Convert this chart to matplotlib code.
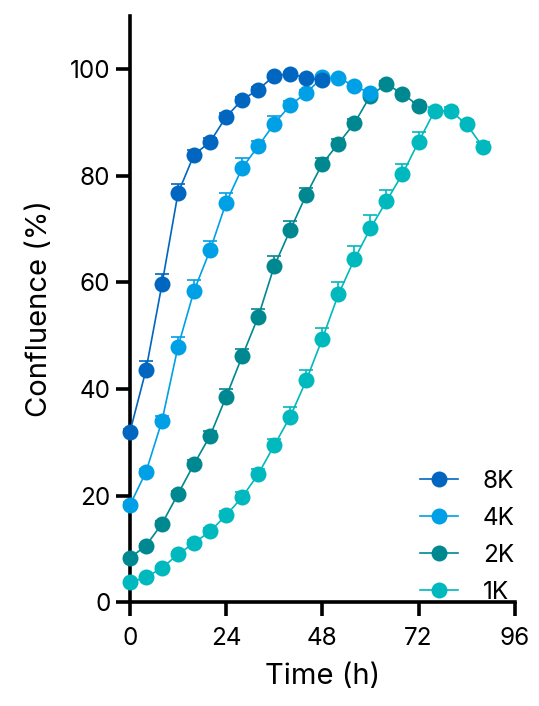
import numpy as np
import matplotlib
matplotlib.use("Agg")
import matplotlib.pyplot as plt

plt.rcParams["font.family"] = ["Inter", "DejaVu Sans"]

# ---- data (time in h, confluence in %) ----
labels = ["8K", "4K", "2K", "1K"]
colors = ["#0066c0", "#00a0e6", "#008891", "#00b9be"]

t_8k = [0, 4, 8, 12, 16, 20, 24, 28, 32, 36, 40, 44, 48]
y_8k = [31.9, 43.5, 59.6, 76.7, 83.9, 86.3, 91.0, 94.2, 96.1, 98.7, 99.1, 98.3, 97.9]
e_8k = [0.5, 1.7, 1.9, 1.75, 0.8, 0.8, 0.7, 0.6, 0.5, 0.4, 0.4, 0.4, 0.4]

t_4k = [0, 4, 8, 12, 16, 20, 24, 28, 32, 36, 40, 44, 48, 52, 56, 60]
y_4k = [18.2, 24.4, 34.0, 47.9, 58.4, 66.0, 74.9, 81.4, 85.5, 89.7, 93.2, 95.5, 98.4, 98.3, 96.8, 95.4]
e_4k = [0.5, 0.6, 0.9, 1.8, 2.1, 1.7, 1.8, 1.9, 0.9, 1.5, 0.8, 0.6, 0.5, 0.4, 0.4, 0.4]

t_2k = [0, 4, 8, 12, 16, 20, 24, 28, 32, 36, 40, 44, 48, 52, 56, 60, 64, 68, 72]
y_2k = [8.3, 10.6, 14.7, 20.3, 25.9, 31.2, 38.5, 46.1, 53.5, 63.0, 69.8, 76.4, 82.2, 86.0, 89.8, 95.0, 97.2, 95.3, 93.1]
e_2k = [0.3, 0.4, 0.5, 0.6, 0.8, 0.9, 1.4, 1.4, 1.4, 1.9, 1.75, 1.2, 1.0, 0.9, 0.8, 0.7, 0.6, 0.6, 0.6]

t_1k = [0, 4, 8, 12, 16, 20, 24, 28, 32, 36, 40, 44, 48, 52, 56, 60, 64, 68, 72, 76, 80, 84, 88]
y_1k = [3.7, 4.7, 6.4, 9.0, 11.1, 13.3, 16.3, 19.7, 24.0, 29.4, 34.8, 41.6, 49.4, 57.7, 64.3, 70.1, 75.2, 80.3, 86.3, 92.1, 92.1, 89.6, 85.4]
e_1k = [0.3, 0.3, 0.4, 0.5, 0.6, 0.7, 0.8, 0.9, 1.0, 1.2, 1.75, 1.9, 2.1, 2.3, 2.4, 2.5, 2.1, 1.8, 1.9, 0.8, 0.8, 0.8, 0.8]

series = [(t_8k, y_8k, e_8k), (t_4k, y_4k, e_4k), (t_2k, y_2k, e_2k), (t_1k, y_1k, e_1k)]

fig = plt.figure(figsize=(5.39, 7.06), dpi=100)
ax = fig.add_axes([0.241, 0.147, 0.714, 0.831])

handles = []
for i, ((t, y, e), lab, c) in enumerate(zip(series, labels, colors)):
    z = 10 - i  # 8K on top, 1K at the bottom
    lo = np.zeros(len(e))
    eb = ax.errorbar(t, y, yerr=[lo, e], fmt="none", ecolor=c, elinewidth=1.2,
                     capsize=5, capthick=1.2, zorder=z, clip_on=False)
    # only the upper cap is drawn (error bars "above")
    for cap in eb[1]:
        if np.allclose(cap.get_ydata(), y):
            cap.set_visible(False)
    h, = ax.plot(t, y, "-o", color=c, lw=1.2, ms=11.5, mec="none",
                 label=lab, zorder=z + 0.5, clip_on=False)
    handles.append(h)

ax.set_xlim(0, 96)
ax.set_ylim(0, 110)
ax.set_xticks([0, 24, 48, 72, 96])
ax.set_yticks([0, 20, 40, 60, 80, 100])
for s in ["top", "right"]:
    ax.spines[s].set_visible(False)
for s in ["left", "bottom"]:
    ax.spines[s].set_linewidth(2.6)
ax.tick_params(width=2.6, length=10, labelsize=17.5, pad=4, color="black")
ax.tick_params(axis="x", pad=8)

ax.set_xlabel("Time (h)", fontsize=21, labelpad=9)
ax.set_ylabel("Confluence (%)", fontsize=21, labelpad=12)

ax.legend(handles=handles, loc="lower right", bbox_to_anchor=(1.0, -0.003),
          frameon=False, fontsize=17.5, handlelength=1.6, handletextpad=1.0,
          labelspacing=0.58, borderaxespad=0.0, borderpad=0.0, markerscale=1.0)

fig.savefig("out.png", dpi=100)
